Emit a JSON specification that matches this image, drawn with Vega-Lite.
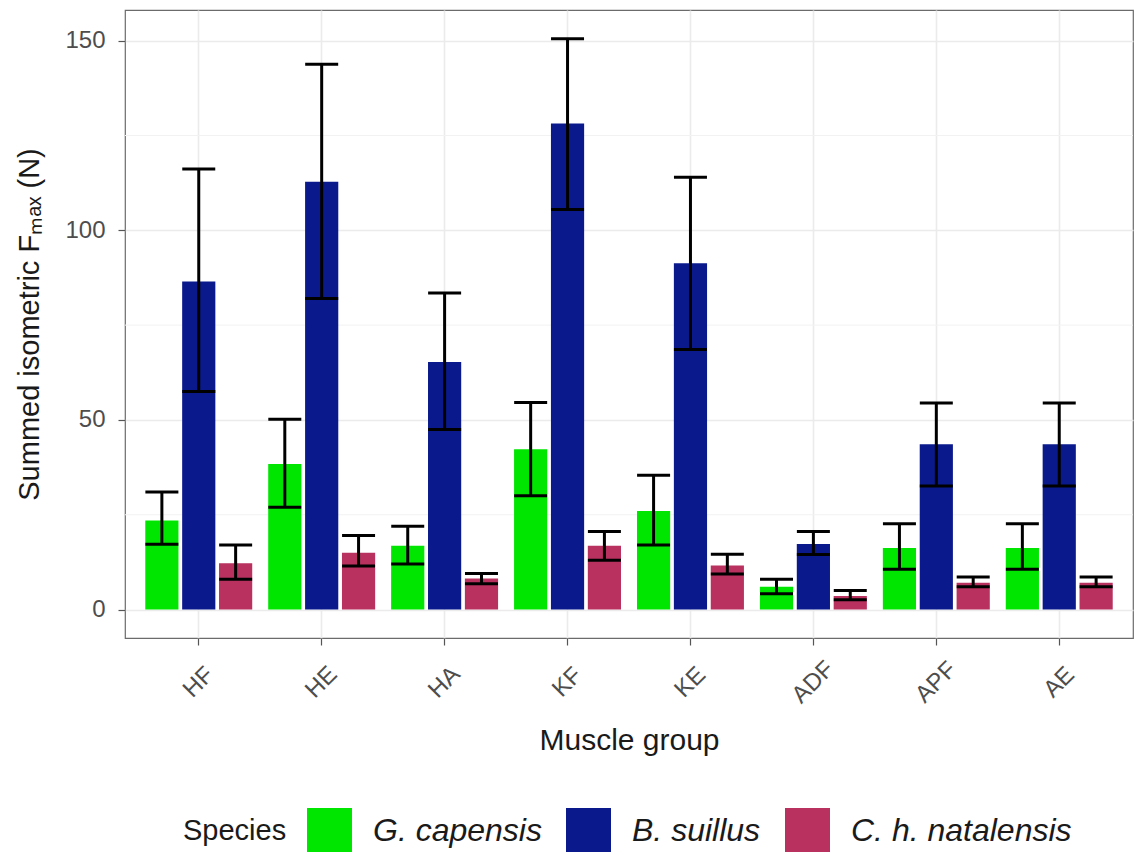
{
  "$schema": "https://vega.github.io/schema/vega-lite/v6.json",
  "autosize": {"type": "none"},
  "padding": {"left": 125, "top": 10, "right": 2, "bottom": 214},
  "width": 1008,
  "height": 628,
  "background": "white",
  "config": {
    "font": "Liberation Sans",
    "view": {"stroke": "#6b6b6b", "strokeWidth": 1.2},
    "axis": {
      "labelFont": "Liberation Sans",
      "titleFont": "Liberation Sans",
      "labelColor": "#4d4d4d",
      "titleColor": "#1a1a1a",
      "titleFontWeight": "normal",
      "tickColor": "#555555",
      "tickSize": 7,
      "tickWidth": 1.2,
      "gridColor": "#ebebeb",
      "gridWidth": 1.6,
      "domain": false
    }
  },
  "datasets": {
    "bars": [
      {"group": "HF", "species": "G. capensis", "mean": 23.5, "lo": 17.2, "hi": 31.0},
      {"group": "HF", "species": "B. suillus", "mean": 86.5, "lo": 57.5, "hi": 116.2},
      {"group": "HF", "species": "C. h. natalensis", "mean": 12.2, "lo": 8.0, "hi": 17.0},
      {"group": "HE", "species": "G. capensis", "mean": 38.4, "lo": 27.0, "hi": 50.2},
      {"group": "HE", "species": "B. suillus", "mean": 112.8, "lo": 82.0, "hi": 143.8},
      {"group": "HE", "species": "C. h. natalensis", "mean": 15.0, "lo": 11.5, "hi": 19.5},
      {"group": "HA", "species": "G. capensis", "mean": 16.8, "lo": 12.0, "hi": 22.0},
      {"group": "HA", "species": "B. suillus", "mean": 65.3, "lo": 47.5, "hi": 83.5},
      {"group": "HA", "species": "C. h. natalensis", "mean": 8.2, "lo": 6.8, "hi": 9.5},
      {"group": "KF", "species": "G. capensis", "mean": 42.3, "lo": 30.0, "hi": 54.6},
      {"group": "KF", "species": "B. suillus", "mean": 128.2, "lo": 105.5, "hi": 150.5},
      {"group": "KF", "species": "C. h. natalensis", "mean": 16.8, "lo": 13.0, "hi": 20.6},
      {"group": "KE", "species": "G. capensis", "mean": 26.0, "lo": 17.0, "hi": 35.4},
      {"group": "KE", "species": "B. suillus", "mean": 91.3, "lo": 68.6, "hi": 114.0},
      {"group": "KE", "species": "C. h. natalensis", "mean": 11.6, "lo": 9.4, "hi": 14.6},
      {"group": "ADF", "species": "G. capensis", "mean": 6.0, "lo": 4.2, "hi": 8.0},
      {"group": "ADF", "species": "B. suillus", "mean": 17.3, "lo": 14.5, "hi": 20.6},
      {"group": "ADF", "species": "C. h. natalensis", "mean": 3.6, "lo": 2.6, "hi": 5.0},
      {"group": "APF", "species": "G. capensis", "mean": 16.2, "lo": 10.6, "hi": 22.6},
      {"group": "APF", "species": "B. suillus", "mean": 43.6, "lo": 32.6, "hi": 54.5},
      {"group": "APF", "species": "C. h. natalensis", "mean": 7.1, "lo": 6.0, "hi": 8.6},
      {"group": "AE", "species": "G. capensis", "mean": 16.2, "lo": 10.6, "hi": 22.6},
      {"group": "AE", "species": "B. suillus", "mean": 43.6, "lo": 32.6, "hi": 54.5},
      {"group": "AE", "species": "C. h. natalensis", "mean": 7.1, "lo": 6.0, "hi": 8.6}
    ],
    "minor": [{"v": 25}, {"v": 75}, {"v": 125}]
  },
  "layer": [
    {
      "data": {"name": "minor"},
      "mark": {"type": "rule", "color": "#f2f2f2", "strokeWidth": 1},
      "encoding": {
        "y": {"field": "v", "type": "quantitative", "scale": {"domain": [-7.5, 158.1], "nice": false, "zero": false}}
      }
    },
    {
      "data": {"name": "bars"},
      "mark": {"type": "bar"},
      "encoding": {
        "x": {
          "field": "group", "type": "nominal",
          "sort": ["HF", "HE", "HA", "KF", "KE", "ADF", "APF", "AE"],
          "scale": {"paddingInner": 0.1, "paddingOuter": 0.15},
          "axis": {
            "title": "Muscle group",
            "titleFontSize": 30,
            "titlePadding": 18,
            "labelFontSize": 24,
            "labelAngle": -45,
            "labelAlign": "center",
            "labelBaseline": "middle",
            "labelPadding": 37,
            "bandPosition": 0.5,
            "grid": true
          }
        },
        "xOffset": {
          "field": "species", "type": "nominal",
          "sort": ["G. capensis", "B. suillus", "C. h. natalensis"],
          "scale": {"paddingInner": 0.1, "paddingOuter": 0.05}
        },
        "y": {
          "field": "mean", "type": "quantitative",
          "scale": {"domain": [-7.5, 158.1], "nice": false, "zero": false},
          "axis": {
            "title": "Summed isometric Fₘₐₓ (N)",
            "titleFontSize": 29,
            "titlePadding": 20,
            "labelFontSize": 24,
            "labelPadding": 13,
            "values": [0, 50, 100, 150],
            "grid": true
          }
        },
        "y2": {"datum": 0},
        "color": {
          "field": "species", "type": "nominal",
          "sort": ["G. capensis", "B. suillus", "C. h. natalensis"],
          "scale": {
            "domain": ["G. capensis", "B. suillus", "C. h. natalensis"],
            "range": ["#00e600", "#0a1a8c", "#b8315f"]
          },
          "legend": {
            "title": "Species",
            "orient": "none",
            "legendX": 58,
            "legendY": 798,
            "direction": "horizontal",
            "titleOrient": "left",
            "titleFontSize": 29,
            "titleFontWeight": "normal",
            "titleColor": "#1a1a1a",
            "titlePadding": 20,
            "titleBaseline": "middle",
            "labelFontSize": 32,
            "labelFontStyle": "italic",
            "labelColor": "#1a1a1a",
            "labelLimit": 400,
            "labelOffset": 21,
            "columnPadding": 24,
            "symbolType": "square",
            "symbolSize": 2025,
            "symbolStrokeWidth": 0,
            "symbolOpacity": 1
          }
        }
      }
    },
    {
      "data": {"name": "bars"},
      "mark": {"type": "rule", "color": "black", "strokeWidth": 3},
      "encoding": {
        "x": {"field": "group", "type": "nominal", "sort": ["HF", "HE", "HA", "KF", "KE", "ADF", "APF", "AE"]},
        "xOffset": {"field": "species", "type": "nominal", "sort": ["G. capensis", "B. suillus", "C. h. natalensis"]},
        "y": {"field": "lo", "type": "quantitative"},
        "y2": {"field": "hi"}
      }
    },
    {
      "data": {"name": "bars"},
      "mark": {"type": "tick", "color": "black", "thickness": 3, "size": 33, "opacity": 1},
      "encoding": {
        "x": {"field": "group", "type": "nominal", "sort": ["HF", "HE", "HA", "KF", "KE", "ADF", "APF", "AE"]},
        "xOffset": {"field": "species", "type": "nominal", "sort": ["G. capensis", "B. suillus", "C. h. natalensis"]},
        "y": {"field": "lo", "type": "quantitative"}
      }
    },
    {
      "data": {"name": "bars"},
      "mark": {"type": "tick", "color": "black", "thickness": 3, "size": 33, "opacity": 1},
      "encoding": {
        "x": {"field": "group", "type": "nominal", "sort": ["HF", "HE", "HA", "KF", "KE", "ADF", "APF", "AE"]},
        "xOffset": {"field": "species", "type": "nominal", "sort": ["G. capensis", "B. suillus", "C. h. natalensis"]},
        "y": {"field": "hi", "type": "quantitative"}
      }
    }
  ]
}
